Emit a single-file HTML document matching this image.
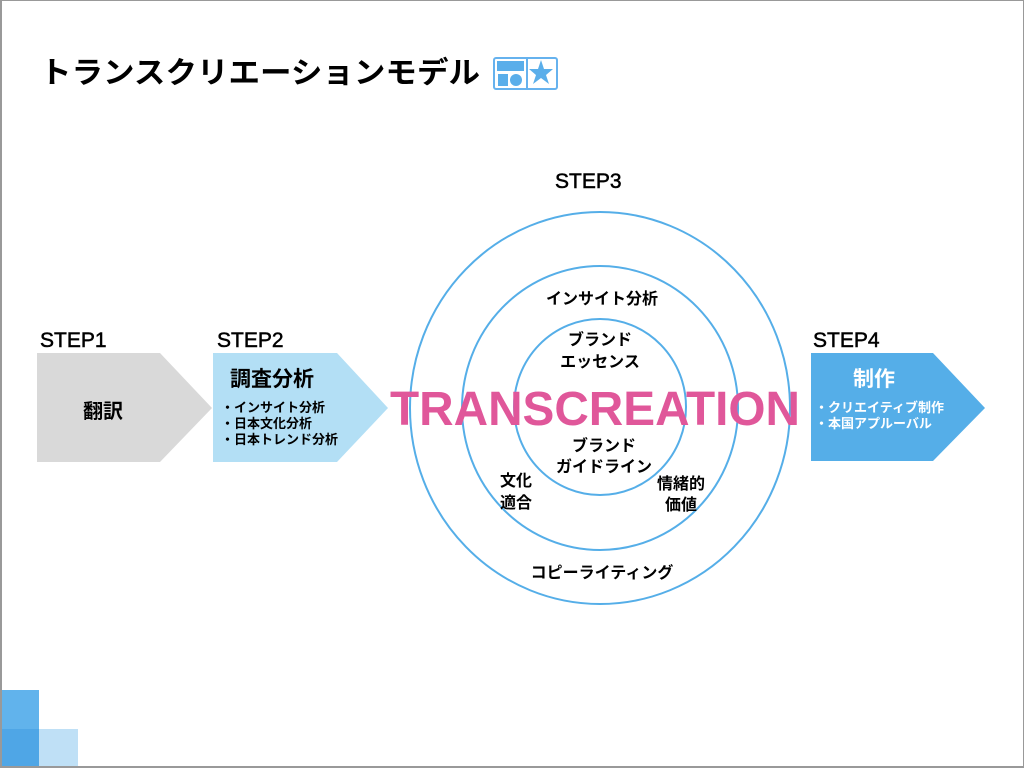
<!DOCTYPE html>
<html><head><meta charset="utf-8"><style>
html,body{margin:0;padding:0}
body{width:1024px;height:768px;position:relative;background:#fff;overflow:hidden;font-family:"Liberation Sans","Noto Sans CJK JP",sans-serif}
.frame{position:absolute;left:0;top:0;border:1px solid #999;border-bottom:2px solid #999;border-left:2px solid #999;box-sizing:border-box;width:1024px;height:768px}
</style></head><body>
<svg width="1024" height="768" style="position:absolute;left:0;top:0" font-family="Liberation Sans, Noto Sans CJK JP, sans-serif">
<rect x="1" y="690" width="38" height="77" fill="#61b3ec"/>
<rect x="39" y="729" width="39" height="38" fill="#bfe0f6"/>
<rect x="1" y="729" width="38" height="38" fill="#4fa6e6"/>
<text x="40" y="83" font-size="30" font-weight="bold" fill="#000" textLength="440" lengthAdjust="spacingAndGlyphs">トランスクリエーションモデル</text>
<g fill="none" stroke="#66b2ee" stroke-width="2">
<rect x="494" y="58" width="63" height="31" rx="2"/>
<line x1="527" y1="58" x2="527" y2="89"/>
</g>
<rect x="497" y="61" width="27" height="10" fill="#5aaeea"/>
<rect x="498" y="74" width="10" height="12" fill="#5aaeea"/>
<circle cx="516" cy="80" r="6" fill="#5aaeea"/>
<polygon points="541,60 544,69 553,69 546,75 549,84 541,78 533,84 536,75 529,69 538,69" fill="#5aaeea"/>
<polygon points="37,353 160,353 212,408 160,462 37,462" fill="#d9d9d9"/>
<polygon points="213,353 337,353 388,408 337,462 213,462" fill="#b3dff5"/>
<polygon points="811,353 933,353 985,408 933,461 811,461" fill="#55aee8"/>
<g font-size="21" fill="#000" stroke="#000" stroke-width="0.5"><text x="40" y="347">STEP1</text><text x="217" y="347">STEP2</text><text x="555" y="188">STEP3</text><text x="813" y="347">STEP4</text></g>
<text x="83" y="418" font-size="20" font-weight="bold">翻訳</text>
<text x="230" y="386" font-size="21" font-weight="bold">調査分析</text>
<g font-size="13" font-weight="bold"><text x="221" y="412">・インサイト分析</text><text x="221" y="428">・日本文化分析</text><text x="221" y="444">・日本トレンド分析</text></g>
<text x="853" y="386" font-size="21" font-weight="bold" fill="#fff">制作</text>
<g font-size="13" font-weight="bold" fill="#fff"><text x="815" y="412">・クリエイティブ制作</text><text x="815" y="428">・本国アプルーバル</text></g>
<g fill="none" stroke="#55aee8" stroke-width="2">
<ellipse cx="600" cy="408" rx="190" ry="196"/>
<ellipse cx="600" cy="408" rx="138" ry="142"/>
<ellipse cx="600" cy="407" rx="86" ry="88"/>
</g>
<g font-size="16" font-weight="bold" fill="#000" text-anchor="middle">
<text x="602" y="304">インサイト分析</text>
<text x="600" y="345">ブランド</text><text x="600" y="367">エッセンス</text>
<text x="604" y="451">ブランド</text><text x="604" y="472">ガイドライン</text>
<text x="516" y="486">文化</text><text x="516" y="508">適合</text>
<text x="681" y="489">情緒的</text><text x="681" y="510">価値</text>
<text x="602" y="578">コピーライティング</text>
</g>
<text x="390" y="425" font-size="48" font-weight="bold" fill="#e0579a" textLength="410" lengthAdjust="spacingAndGlyphs">TRANSCREATION</text>
</svg>
<div class="frame"></div>
</body></html>
